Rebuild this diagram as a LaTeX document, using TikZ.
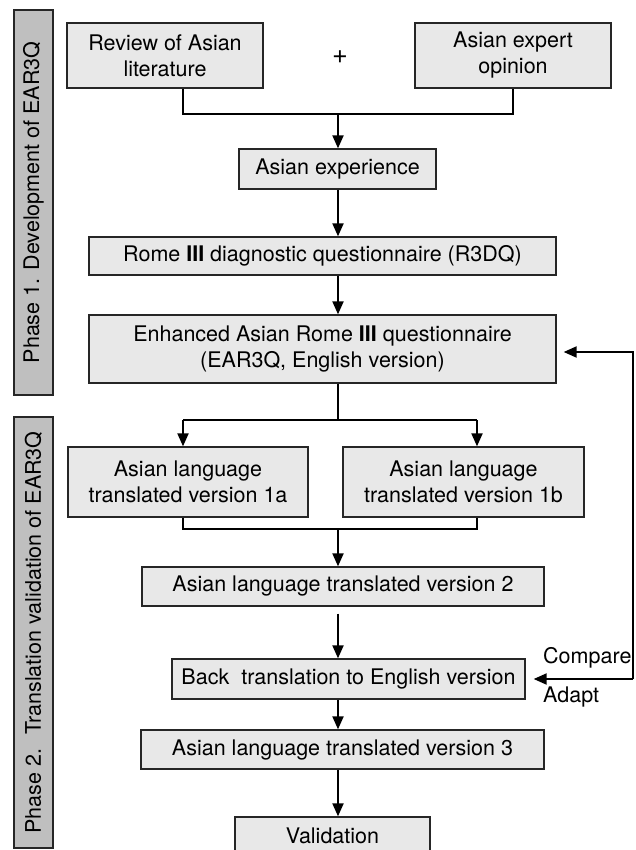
\documentclass[tikz,border=0pt]{standalone}
\usepackage{fontspec}
\setmainfont{TeX Gyre Heros}
\usetikzlibrary{arrows.meta}

\tikzset{
  box/.style={draw=black!85, line width=1.3pt, fill=black!9, align=center, inner sep=0pt},
  phasebar/.style={draw=black!85, line width=1.3pt, fill=black!25, rotate=90, inner sep=0pt},
  link/.style={line width=1.3pt},
  arr/.style={line width=2pt, -{Triangle[length=13pt,width=11pt]}},
}

\begin{document}
\begin{tikzpicture}[x=1pt,y=-1pt,font=\fontsize{21.5}{26}\selectfont]
\useasboundingbox (0,0) rectangle (636,850);

% phase bars
\node[phasebar, minimum width=385pt, minimum height=39pt] (ph1) at (33.5,202.5) {Phase 1. Development of EAR3Q};
\node[phasebar, minimum width=431pt, minimum height=39pt] (ph2) at (33.5,632.5) {Phase 2.~ Translation validation of EAR3Q};

% boxes
\node[box, minimum width=196pt, minimum height=65pt] (rev) at (165,55.5) {Review of Asian\\literature};
\node[box, minimum width=196pt, minimum height=65pt] (expo) at (513,55.5) {Asian expert\\opinion};
\node[font=\fontsize{27}{27}\selectfont] (plus) at (340,57) {+};
\node[box, minimum width=197pt, minimum height=40pt] (asexp) at (337.5,169) {Asian experience};
\node[box, minimum width=467pt, minimum height=38pt] (rome) at (322.5,256) {Rome \textbf{III} diagnostic questionnaire (R3DQ)};
\node[box, minimum width=467pt, minimum height=68pt] (ear) at (322.5,349) {Enhanced Asian Rome \textbf{III} questionnaire\\(EAR3Q, English version)};
\node[box, minimum width=240pt, minimum height=70pt] (v1a) at (188,482) {Asian language\\translated version 1a};
\node[box, minimum width=241pt, minimum height=70pt] (v1b) at (463.5,482) {Asian language\\translated version 1b};
\node[box, minimum width=402pt, minimum height=39pt] (v2) at (343,586.5) {Asian language translated version 2};
\node[box, minimum width=353pt, minimum height=40pt] (back) at (348.5,679) {Back~ translation to English version};
\node[box, minimum width=403pt, minimum height=39pt] (v3) at (342.5,749.5) {Asian language translated version 3};
\node[box, minimum width=195pt, minimum height=38pt] (val) at (332.5,836) {Validation};

% helper points
\coordinate (j1) at (338,114);
\coordinate (j2) at (338,420);
\coordinate (j3) at (338,529);
\coordinate (lc) at (183,0);
\coordinate (rc) at (477,0);
\coordinate (fb) at (633,679);
\coordinate (fbtop) at (633,352);

% connectors
\draw[link] (rev.south -| lc) |- (j1) -| (expo.south);
\draw[arr] (j1) -- (asexp.north -| j1);
\draw[arr] (asexp.south -| j1) -- (rome.north -| j1);
\draw[arr] (rome.south -| j1) -- (ear.north -| j1);
\draw[link] (ear.south -| j2) -- (j2);
\draw[link] (j2 -| lc) -- (j2 -| rc);
\draw[arr] (j2 -| lc) -- (v1a.north -| lc);
\draw[arr] (j2 -| rc) -- (v1b.north -| rc);
\draw[link] (v1a.south -| lc) |- (j3) -| (v1b.south -| rc);
\draw[arr] (j3) -- (v2.north -| j3);
\draw[arr, shorten <=7pt] (v2.south -| j3) -- (back.north -| j3);
\draw[arr] (back.south -| j3) -- (v3.north -| j3);
\draw[arr] (v3.south -| j3) -- (val.north -| j3);

% feedback loop
\draw[arr] (fb) -- (fbtop) -- ([xshift=7pt]ear.east |- fbtop);
\draw[arr] (fb) -- ([xshift=8pt]back.east);
\node[anchor=base west, inner sep=0pt] (cmp) at (543,663) {Compare};
\node[anchor=base west, inner sep=0pt] (adp) at (543,702) {Adapt};
\end{tikzpicture}
\end{document}
